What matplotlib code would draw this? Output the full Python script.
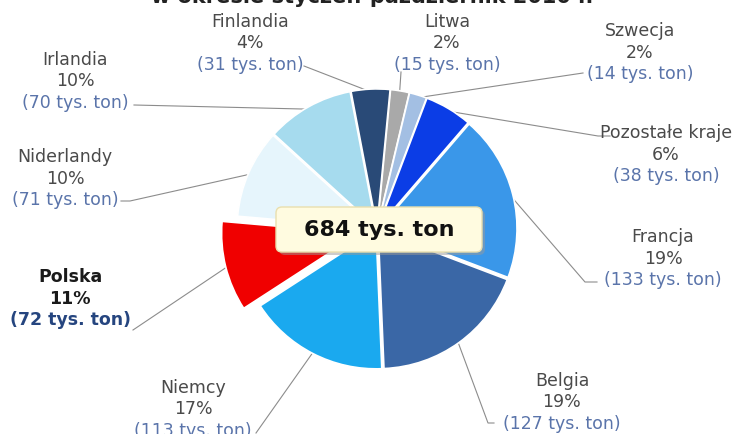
import numpy as np
import matplotlib
matplotlib.use("Agg")
import matplotlib.pyplot as plt
from matplotlib.patches import FancyBboxPatch

W, H = 744, 435

countries = ["Litwa", "Szwecja", "Pozostałe kraje", "Francja", "Belgia",
             "Niemcy", "Polska", "Niderlandy", "Irlandia", "Finlandia"]
tons = [15, 14, 38, 133, 127, 113, 72, 71, 70, 31]
shares = [2, 2, 6, 19, 19, 17, 11, 10, 10, 4]
colors = ["#a9a9a9", "#a3bfe3", "#0b3de6", "#3a97e9", "#3a67a6",
          "#1aa9ef", "#f00000", "#e6f5fc", "#a6dbee", "#294a77"]

title = "w okresie styczeń-październik 2010 r."

# label placement in pixel coords (x centre, y of first line), leader end and elbow
label_pos = {
    "Litwa": (447, 22), "Szwecja": (640, 31), "Pozostałe kraje": (666, 133),
    "Francja": (663, 237), "Belgia": (562, 381), "Niemcy": (193, 388),
    "Polska": (70, 277), "Niderlandy": (65, 157), "Irlandia": (75, 60),
    "Finlandia": (250, 22),
}
leader_end = {
    "Litwa": [(401, 73)], "Szwecja": [(583, 74)],
    "Pozostałe kraje": [(610, 137), (598, 137)],
    "Francja": [(597, 283), (585, 283)], "Belgia": [(494, 424), (488, 424)],
    "Niemcy": [(256, 434)], "Polska": [(133, 331)],
    "Niderlandy": [(121, 202), (130, 202)], "Irlandia": [(134, 106)],
    "Finlandia": [(304, 67)],
}

cx, cy, r = 377, 230, 138
explode = [0.13 * r if c == "Polska" else 0.015 * r for c in countries]


def Y(y):
    return H - y


fig = plt.figure(figsize=(W / 100, H / 100), dpi=100)
ax = fig.add_axes([0, 0, 1, 1])

wedges, _ = ax.pie(tons, colors=colors, startangle=84.5, counterclock=False,
                   center=(cx, Y(cy)), radius=r, explode=explode,
                   wedgeprops=dict(edgecolor="white", linewidth=1.2))
for w in wedges:
    w.set_zorder(2)

ax.set_xlim(0, W)
ax.set_ylim(0, H)
ax.set_aspect("equal")
ax.axis("off")

# leader lines from the middle of each wedge's rim
for name, w in zip(countries, wedges):
    mid = np.deg2rad((w.theta1 + w.theta2) / 2)
    wx, wy = w.center
    px, py = wx + r * 0.98 * np.cos(mid), wy + r * 0.98 * np.sin(mid)
    pts = [(x, Y(y)) for x, y in leader_end[name]] + [(px, py)]
    xs, ys = zip(*pts)
    ax.plot(xs, ys, color="#8c8c8c", lw=0.8, zorder=1)

# three-line labels
step = 21.5
for name, pct, t in zip(countries, shares, tons):
    x, y = label_pos[name]
    bold = name == "Polska"
    fw = "bold" if bold else "normal"
    name_col = "#1a1a1a" if bold else "#4a4a4a"
    ton_col = "#25457f" if bold else "#5a74aa"
    ax.text(x, Y(y), name, ha="center", va="center", fontsize=12.5,
            color=name_col, fontweight=fw)
    ax.text(x, Y(y + step), f"{pct}%", ha="center", va="center",
            fontsize=12.5, color=name_col, fontweight=fw)
    ax.text(x, Y(y + 2 * step), f"({t} tys. ton)", ha="center", va="center",
            fontsize=12.5, color=ton_col, fontweight=fw)

# total in the centre
bx0, bx1, by0, by1 = 276, 482, 208, 253
shadow = FancyBboxPatch((bx0 + 3, Y(by1) - 3), bx1 - bx0, by1 - by0,
                        boxstyle="round,pad=0,rounding_size=6",
                        fc="#9a9a9a", ec="none", alpha=0.5, zorder=4)
box = FancyBboxPatch((bx0, Y(by1)), bx1 - bx0, by1 - by0,
                     boxstyle="round,pad=0,rounding_size=6",
                     fc="#fffbe0", ec="#e9dfae", lw=1, zorder=5)
ax.add_patch(shadow)
ax.add_patch(box)
ax.text((bx0 + bx1) / 2, Y((by0 + by1) / 2), f"{sum(tons)} tys. ton",
        ha="center", va="center", fontsize=16, fontweight="bold",
        color="#111111", zorder=6)

# title sits above the frame, only its lower edge shows
ax.text(W / 2, Y(3), title, ha="center", va="baseline", fontsize=15,
        fontweight="bold", color="#222222", clip_on=False)

fig.savefig("out.png", dpi=100)
